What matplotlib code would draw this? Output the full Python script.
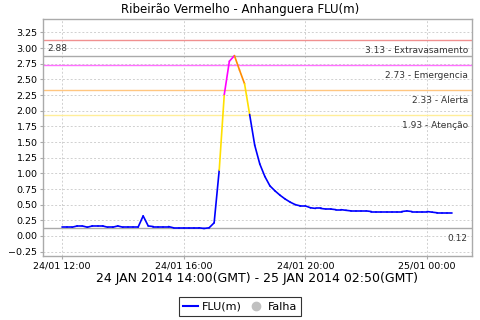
import matplotlib
matplotlib.use("Agg")
import matplotlib.pyplot as plt
import matplotlib.dates as mdates
from matplotlib.lines import Line2D
import numpy as np
import datetime as dt

title = "Ribeirão Vermelho - Anhanguera FLU(m)"
xlabel = "24 JAN 2014 14:00(GMT) - 25 JAN 2014 02:50(GMT)"
start = dt.datetime(2014, 1, 24, 12, 0)
step_min = 10
flu = [0.14, 0.14, 0.14, 0.16, 0.16, 0.14, 0.16, 0.16, 0.16, 0.14,
       0.14, 0.16, 0.14, 0.14, 0.14, 0.14, 0.32, 0.16, 0.15, 0.15,
       0.15, 0.15, 0.13, 0.13, 0.13, 0.13, 0.13, 0.13, 0.12, 0.13,
       0.21, 1.05, 2.26, 2.79, 2.88, 2.65, 2.43, 1.94, 1.45, 1.15,
       0.95, 0.80, 0.72, 0.65, 0.59, 0.54, 0.50, 0.48, 0.48, 0.45,
       0.44, 0.44, 0.43, 0.43, 0.42, 0.42, 0.41, 0.40, 0.40, 0.40,
       0.40, 0.39, 0.39, 0.39, 0.39, 0.39, 0.39, 0.39, 0.40, 0.39,
       0.39, 0.39, 0.39, 0.38, 0.37, 0.37, 0.37, 0.37]
levels = [1.93, 2.33, 2.73, 3.13]
level_names = ["Atenção", "Alerta", "Emergencia", "Extravasamento"]
level_line_colors = ["#ffee99", "#ffc680", "#ff70ff", "#f09090"]
seg_colors = ["#0000ff", "#ffe000", "#ff8c00", "#ff00ff", "#ff0000"]
yticks = [-0.25, 0.0, 0.25, 0.5, 0.75, 1.0, 1.25, 1.5, 1.75, 2.0, 2.25, 2.5, 2.75, 3.0, 3.25]
xtick_times = [dt.datetime(2014, 1, 24, 12), dt.datetime(2014, 1, 24, 16),
               dt.datetime(2014, 1, 24, 20), dt.datetime(2014, 1, 25, 0)]

times = [start + dt.timedelta(minutes=step_min * i) for i in range(len(flu))]
tnum = mdates.date2num(times)

fig = plt.figure(figsize=(4.8, 3.2), dpi=100)
ax = fig.add_axes([43 / 480, 1 - 256 / 320, 429 / 480, 237 / 320])

gray = "#aaaaaa"
ax.grid(True, color="#d0d0d0", linestyle=(0, (2, 2)), linewidth=0.7)
ax.set_axisbelow(True)

# level lines
for lv, nm, c in zip(levels, level_names, level_line_colors):
    ax.axhline(lv, color=c, linewidth=1.0, zorder=2)
    ax.annotate(f"{lv:.2f} - {nm}", xy=(1, lv), xycoords=("axes fraction", "data"),
                xytext=(-3, -4), textcoords="offset points", ha="right", va="top",
                fontsize=6.5, color="#333333")
vmax = max(flu)
vmin = min(flu)
ax.axhline(vmax, color=gray, linewidth=1.0, zorder=2)
ax.axhline(vmin, color=gray, linewidth=1.0, zorder=2)
ax.annotate(f"{vmax:.2f}", xy=(0, vmax), xycoords=("axes fraction", "data"),
            xytext=(3, 2), textcoords="offset points", ha="left", va="bottom",
            fontsize=6.5, color="#333333")
ax.annotate(f"{vmin:.2f}", xy=(1, vmin), xycoords=("axes fraction", "data"),
            xytext=(-3, -4), textcoords="offset points", ha="right", va="top",
            fontsize=6.5, color="#333333")

# data segments colored by end value
for i in range(1, len(flu)):
    v = flu[i]
    k = int(np.searchsorted(levels, v, side="right"))
    ax.plot(tnum[i - 1:i + 1], flu[i - 1:i + 1], color=seg_colors[k], linewidth=1.2,
            solid_capstyle="round", zorder=3)

span = tnum[-1] - tnum[0]
ax.set_xlim(tnum[0] - 0.0487 * span, tnum[-1] + 0.05 * span)
ax.set_ylim(-0.32, 3.465)
ax.set_yticks(yticks)
ax.set_yticklabels([f"{t:.2f}".replace("-", "\u2212") for t in yticks])
ax.set_xticks(mdates.date2num(xtick_times))
ax.xaxis.set_major_formatter(mdates.DateFormatter("%d/%m %H:%M"))
ax.tick_params(axis="both", labelsize=6.8, length=2, color=gray, pad=2)
for s in ax.spines.values():
    s.set_color(gray)
    s.set_linewidth(1.0)

fig.text(0.5, 1 - 9 / 320, title, fontsize=8.5, ha="center", va="center")
ax.set_xlabel(xlabel, fontsize=9, labelpad=1)

handles = [Line2D([], [], color="#0000ff", linewidth=1.5),
           Line2D([], [], color="#c0c0c0", marker="o", linestyle="none", markersize=6)]
leg = fig.legend(handles, ["FLU(m)", "Falha"], loc="center", bbox_to_anchor=(0.5, 1 - 306.5 / 320),
                 ncol=2, fontsize=8, frameon=True, fancybox=False, handlelength=1.3,
                 handletextpad=0.4, columnspacing=0.6, borderpad=0.4, borderaxespad=0)
leg.get_frame().set_edgecolor("black")
leg.get_frame().set_linewidth(0.8)

fig.savefig("out.png", dpi=100)
